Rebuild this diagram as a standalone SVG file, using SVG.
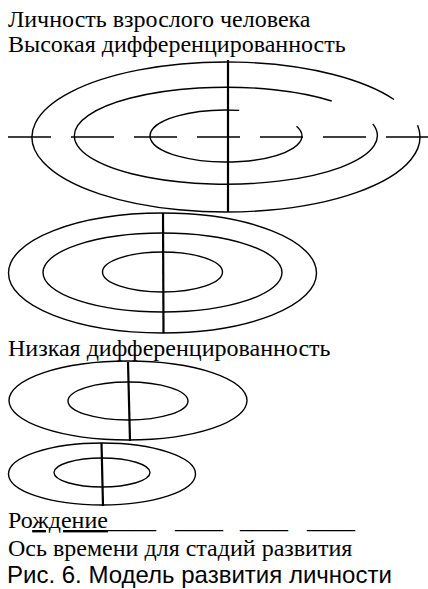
<svg xmlns="http://www.w3.org/2000/svg" width="428" height="589" viewBox="0 0 428 589">
<style>
.t{font-family:"Liberation Serif","Times New Roman",serif;font-size:24px;fill:#000}
.s{font-family:"Liberation Sans",Arial,sans-serif;font-size:24px;fill:#000}
.e{fill:none;stroke:#000;stroke-width:1.4}
.ax{fill:none;stroke:#000;stroke-width:2.2}
.d{fill:none;stroke:#000;stroke-width:1.6;stroke-dasharray:43 20}
</style>
<rect width="428" height="589" fill="#fff"/>
<g id="labels-top">
<text class="t" x="8" y="27">Личность взрослого человека</text>
<text class="t" x="8" y="52">Высокая дифференцированность</text>
</g>
<g id="stage4-adult">
<path class="e" d="M394 99.5 A194 75 0 1 0 417.6 125.3"/>
<path class="e" d="M331.7 101 A151.5 48.5 0 1 0 372.8 123.9"/>
<path class="e" d="M239.2 110.4 A76 26 0 1 0 296.5 126.3"/>
<line class="d" x1="8" y1="137" x2="428" y2="137"/>
<line class="ax" x1="228" y1="60" x2="228" y2="212"/>
</g>
<g id="stage3">
<ellipse class="e" cx="162.5" cy="273" rx="154" ry="60"/>
<ellipse class="e" cx="162.5" cy="272.5" rx="119.5" ry="39.5"/>
<ellipse class="e" cx="162.5" cy="272" rx="60" ry="20"/>
<line class="ax" x1="163" y1="213" x2="163.5" y2="333"/>
</g>
<g id="label-low">
<text class="t" x="8" y="356">Низкая дифференцированность</text>
</g>
<g id="stage2">
<ellipse class="e" cx="128" cy="400.5" rx="119" ry="39.5"/>
<ellipse class="e" cx="128" cy="401" rx="60" ry="19"/>
<line class="ax" x1="128" y1="362" x2="130" y2="441"/>
</g>
<g id="stage1-birth">
<ellipse class="e" cx="102" cy="474" rx="93.5" ry="31"/>
<ellipse class="e" cx="102" cy="472.5" rx="48" ry="14.5"/>
<line class="ax" x1="101.5" y1="443" x2="103" y2="506"/>
</g>
<g id="labels-bottom">
<text class="t" x="8" y="528">Ро<tspan text-decoration="underline">ждение</tspan>____<tspan x="175">____</tspan><tspan x="240">____</tspan><tspan x="307">____</tspan></text>
<text class="t" x="8" y="556">Ось времени для стадий развития</text>
<text class="s" x="7" y="583">Рис. 6. Модель развития личности</text>
</g>
</svg>
